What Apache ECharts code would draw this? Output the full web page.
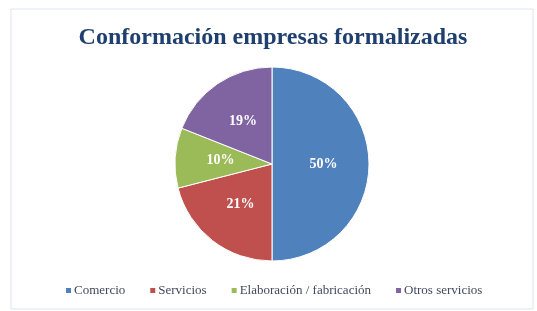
<!DOCTYPE html>
<html>
<head>
<meta charset="utf-8">
<script src="https://cdn.jsdelivr.net/npm/echarts@6/dist/echarts.min.js"></script>
<style>
  html, body { margin: 0; padding: 0; background: #fff; }
  #chart { width: 537px; height: 311px; }
</style>
</head>
<body>
<div id="chart"></div>
<script>
// datos del grafico
var categorias = ["Comercio", "Servicios", "Elaboración / fabricación", "Otros servicios"];
var valores = [50, 21, 10, 19];
var colores = ["#4f81bd", "#c0504d", "#9bbb59", "#8064a2"];

var datos = [];
for (var i = 0; i < categorias.length; i++) {
    datos.push({ name: categorias[i], value: valores[i], itemStyle: { color: colores[i] } });
}

var myChart = echarts.init(document.getElementById("chart"));
var option = {
    backgroundColor: "#ffffff",
    animation: false,
    title: {
        text: "Conformación empresas formalizadas",
        left: 268,
        textAlign: "center",
        top: 21,
        textStyle: {
            fontFamily: "Liberation Serif",
            fontWeight: "bold",
            fontSize: 24,
            color: "#1f3f6e"
        }
    },
    legend: {
        data: categorias,
        bottom: 9,
        left: 59,
        icon: "rect",
        itemWidth: 7,
        itemHeight: 7,
        itemGap: 23,
        textStyle: {
            fontFamily: "Liberation Serif",
            fontSize: 13,
            color: "#404a5a",
            padding: [0, 0, 0, -3]
        }
    },
    graphic: [{
        type: "rect",
        shape: { x: 11, y: 9, width: 522, height: 300 },
        style: { fill: "none", stroke: "#dde3ef", lineWidth: 1 },
        silent: true
    }],
    series: [{
        type: "pie",
        center: [272, 164],
        radius: 97,
        startAngle: 90,
        clockwise: true,
        itemStyle: { borderColor: "#ffffff", borderWidth: 1 },
        label: {
            show: true,
            position: "inside",
            formatter: "{c}%",
            color: "#ffffff",
            fontFamily: "Liberation Serif",
            fontWeight: "bold",
            fontSize: 14
        },
        labelLine: { show: false },
        data: datos
    }]
};
myChart.setOption(option);
</script>
</body>
</html>
